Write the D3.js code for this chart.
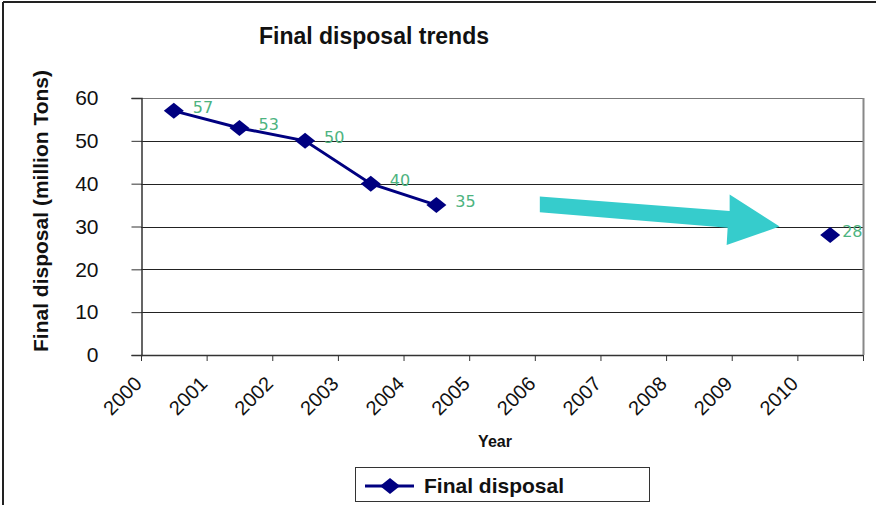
<!DOCTYPE html>
<html>
<head>
<meta charset="utf-8">
<script src="https://cdn.jsdelivr.net/npm/d3@7"></script>
<style>
  html, body { margin: 0; padding: 0; background: #fff; }
  svg { display: block; font-family: Arial, "Liberation Sans", sans-serif; }
</style>
</head>
<body>
<svg id="chart" width="876" height="505"></svg>
<script>
const years = ["2000","2001","2002","2003","2004","2005","2006","2007","2008","2009","2010"];
const values = [57, 53, 50, 40, 35, null, null, null, null, null, 28];
const yTicks = [0, 10, 20, 30, 40, 50, 60];
const seriesName = "Final disposal";
const titleText = "Final disposal trends";
const yTitle = "Final disposal (million Tons)";
const xTitle = "Year";

const svg = d3.select("#chart");
const W = 876, H = 505;
const m = { left: 141, right: 863, top: 98, bottom: 355 };
const FONT = "Arial, 'Liberation Sans', sans-serif";

// outer frame (top and left edges visible)
svg.append("line").attr("x1", 3).attr("x2", W).attr("y1", 2).attr("y2", 2)
  .attr("stroke", "#222").attr("stroke-width", 2);
svg.append("line").attr("x1", 3).attr("x2", 3).attr("y1", 2).attr("y2", H)
  .attr("stroke", "#222").attr("stroke-width", 2);

const x = d3.scaleBand().domain(years).range([m.left, m.right]).paddingInner(0).paddingOuter(0);
const y = d3.scaleLinear().domain([0, 60]).range([m.bottom, m.top]);

// gridlines
svg.append("g").selectAll("line").data(yTicks).join("line")
  .attr("x1", m.left).attr("x2", m.right)
  .attr("y1", d => Math.round(y(d)) + 0.5).attr("y2", d => Math.round(y(d)) + 0.5)
  .attr("stroke", d => d === 60 ? "#777" : "#222").attr("stroke-width", 1);

// right plot border
svg.append("line").attr("x1", m.right + 0.5).attr("x2", m.right + 0.5)
  .attr("y1", m.top).attr("y2", m.bottom).attr("stroke", "#888").attr("stroke-width", 2);

// y axis
const yAxis = d3.axisLeft(y).tickValues(yTicks).tickSize(10).tickPadding(33);
const gy = svg.append("g").attr("transform", `translate(${m.left + 0.5},0)`).call(yAxis);
gy.attr("font-size", null).attr("font-family", null);
gy.select(".domain").attr("stroke", "#333").attr("stroke-width", 1.5);
gy.selectAll(".tick line").attr("stroke", "#333");
gy.selectAll(".tick text").style("font-size", "21px").style("font-family", FONT)
  .attr("fill", "#111");

// x axis: ticks at band boundaries
const boundaries = years.map(d => x(d)).concat([m.right]);
const gx = svg.append("g");
gx.append("line").attr("x1", m.left).attr("x2", m.right).attr("y1", m.bottom + 0.5).attr("y2", m.bottom + 0.5)
  .attr("stroke", "#333").attr("stroke-width", 1.5);
gx.selectAll("line.tk").data(boundaries).join("line").attr("class", "tk")
  .attr("x1", d => d + 0.5).attr("x2", d => d + 0.5)
  .attr("y1", m.bottom).attr("y2", m.bottom + 6).attr("stroke", "#333");
gx.selectAll("text").data(years).join("text")
  .attr("transform", d => `translate(${x(d) + 2},${m.bottom + 30}) rotate(-45)`)
  .attr("text-anchor", "end")
  .style("font-size", "20px").attr("fill", "#111").text(d => d);

// titles
svg.append("text").attr("x", 374).attr("y", 44).attr("text-anchor", "middle")
  .style("font-size", "23px").attr("font-weight", "bold").attr("fill", "#111").text(titleText);
svg.append("text").attr("transform", "translate(48,211) rotate(-90)").attr("text-anchor", "middle")
  .style("font-size", "21px").attr("font-weight", "bold").attr("fill", "#111").text(yTitle);
svg.append("text").attr("x", 495).attr("y", 447).attr("text-anchor", "middle")
  .style("font-size", "16px").attr("font-weight", "bold").attr("fill", "#111").text(xTitle);

// annotation arrow (cyan) spanning the missing years toward 2010
const ax0 = x("2006") + 5, ax1 = x("2009") + x.bandwidth() * 0.73;
const arrow = [
  [ax0, y(37.0)], [ax1 - 50, y(33.6)], [ax1 - 50, y(37.5)], [ax1, y(30.0)],
  [ax1 - 53, y(25.7)], [ax1 - 52, y(29.7)], [ax0, y(33.3)]
];
svg.append("path").attr("d", d3.line()(arrow) + "Z").attr("fill", "#36CCCC");

// series line (segments only between consecutive defined points)
const pts = years.map((d, i) => ({ year: d, v: values[i] }));
const line = d3.line().defined(d => d.v != null)
  .x(d => x(d.year) + x.bandwidth() / 2).y(d => y(d.v));
svg.append("path").datum(pts).attr("d", line).attr("fill", "none")
  .attr("stroke", "#000080").attr("stroke-width", 3);

const diamond = "M0,-8L10,0L0,8L-10,0Z";
const defined = pts.filter(d => d.v != null);
svg.append("g").selectAll("path").data(defined).join("path")
  .attr("transform", d => `translate(${x(d.year) + x.bandwidth() / 2},${y(d.v)})`)
  .attr("d", diamond).attr("fill", "#000080");

svg.append("g").selectAll("text").data(defined).join("text")
  .attr("x", d => x(d.year) + x.bandwidth() / 2 + (d.year === "2010" ? 12 : 19))
  .attr("y", d => y(d.v) + 2)
  .style("font-size", "16px").attr("fill", "#4DB380").style("font-family", "'DejaVu Sans', Verdana, sans-serif")
  .text(d => d.v);

// legend
const lg = svg.append("g");
lg.append("rect").attr("x", 355.5).attr("y", 467.5).attr("width", 294).attr("height", 34)
  .attr("fill", "#fff").attr("stroke", "#333").attr("stroke-width", 1);
lg.append("line").attr("x1", 365).attr("x2", 414).attr("y1", 486).attr("y2", 486)
  .attr("stroke", "#000080").attr("stroke-width", 3);
lg.append("path").attr("transform", "translate(390,486)").attr("d", diamond).attr("fill", "#000080");
lg.append("text").attr("x", 424).attr("y", 493).style("font-size", "21px").attr("font-weight", "bold")
  .attr("fill", "#111").text(seriesName);
</script>
</body>
</html>
